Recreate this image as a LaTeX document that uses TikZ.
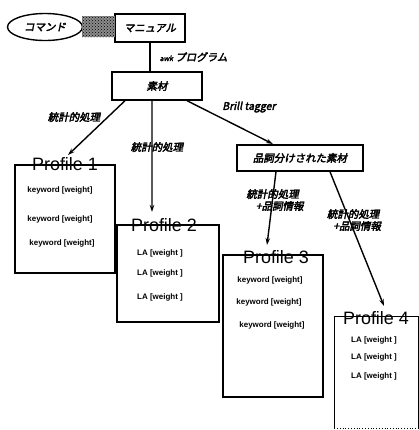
\documentclass[tikz,border=0pt]{standalone}
\usepackage{fontspec}
\setmainfont{Liberation Sans}
\newfontfamily\jp[FakeSlant=0.2,FakeBold=3]{Noto Sans CJK JP}
\usepackage{tikz}
\usetikzlibrary{positioning,arrows.meta,shapes.geometric,patterns}

\begin{document}
\begin{tikzpicture}[x=1bp, y=-1bp, line width=1.4pt,
  box/.style={draw,rectangle,inner sep=0pt,font=\jp\fontsize{10.5}{12}\selectfont},
  lbl/.style={inner sep=1pt,font=\jp\fontsize{10.5}{12}\selectfont,align=left},
  profile/.style={rectangle,inner sep=0pt,draw},
  ptitle/.style={inner sep=0pt,font=\fontsize{18}{18}\selectfont},
  entry/.style={inner sep=0pt,font=\bfseries\fontsize{8}{9}\selectfont},
  arr/.style={-{Stealth[length=7pt,width=4.5pt]}}]
\useasboundingbox (0,0) rectangle (419,430);
% source nodes
\node[draw,ellipse,minimum width=75bp,minimum height=27bp,inner sep=0pt,font=\jp\fontsize{10.5}{12}\selectfont] (cmd) at (45,27) {コマンド};
\node[box,minimum width=70bp,minimum height=28bp] (manual) at (150,28) {マニュアル};
\fill[black!45] (82,16) rectangle (115,37);
\fill[pattern=crosshatch dots,pattern color=black] (82,16) rectangle (115,37);
\node[box,minimum width=90bp,minimum height=28bp] (sozai) at (157,86) {素材};
\node[box,minimum width=126bp,minimum height=26bp] (hinshi) at (300,158) {品詞分けされた素材};

% profile boxes
\node[profile,minimum width=100bp,minimum height=108bp] (p1) at (65,219) {};
\node[profile,minimum width=102bp,minimum height=97bp] (p2) at (168,273.5) {};
\node[profile,minimum width=100bp,minimum height=142bp] (p3) at (273,326) {};
\node[profile,draw=none,minimum width=83bp,minimum height=111bp] (p4) at (376.5,372.5) {};
\draw (p4.south west) -- (p4.north west) -- (p4.north east) -- (p4.south east);
\draw[dotted,line width=0.8pt] (p4.south west) -- (p4.south east);

\node[ptitle] (t1) at (p1.north) {Profile 1};
\node[ptitle] (t2) at (164,225) {Profile 2};
\node[ptitle] (t3) at (276,257) {Profile 3};
\node[ptitle] (t4) at (376,318) {Profile 4};

\node[entry] (k11) at (60,190) {keyword [weight]};
\node[entry] (k12) at (60,219) {keyword [weight]};
\node[entry] (k13) at (62,243) {keyword [weight]};
\node[entry] (l21) at (160,253) {LA [weight ]};
\node[entry] (l22) at (160,273) {LA [weight ]};
\node[entry] (l23) at (160,297) {LA [weight ]};
\node[entry] (k31) at (270,280) {keyword [weight]};
\node[entry] (k32) at (269,302) {keyword [weight]};
\node[entry] (k33) at (272,325) {keyword [weight]};
\node[entry] (l41) at (374,340) {LA [weight ]};
\node[entry] (l42) at (374,357) {LA [weight ]};
\node[entry] (l43) at (374,376) {LA [weight ]};

% connectors
\draw (manual.south -| sozai.north) ++(-7,0) coordinate (m0) -- (m0 |- sozai.north);
\draw[arr] ([xshift=-32bp]sozai.south) -- (68,155) coordinate (p1in);
\draw[arr] ([xshift=-5bp]sozai.south) -- (152,212) coordinate (p2in);
\draw[arr] ([xshift=30bp]sozai.south) -- (273,144) coordinate (hin);
\draw[arr] ([xshift=-24bp]hinshi.south) -- (267,245) coordinate (p3in);
\draw[arr] ([xshift=30bp]hinshi.south) -- (384,306) coordinate (p4in);

\node[lbl,anchor=west] (awk) at (158,57) {{\fontsize{7}{8}\selectfont awk} プログラム};
\node[lbl] (s1) at (74,117) {統計的処理};
\node[lbl] (s2) at (157,147) {統計的処理};
\node[lbl] (brill) at (249,107) {Brill tagger};
\node[lbl] (s3) at (275,200) {統計的処理\\\hspace*{0.9em}+品詞情報};
\node[lbl] (s4) at (354,220) {統計的処理\\\hspace*{0.6em}+品詞情報};
\end{tikzpicture}
\end{document}
